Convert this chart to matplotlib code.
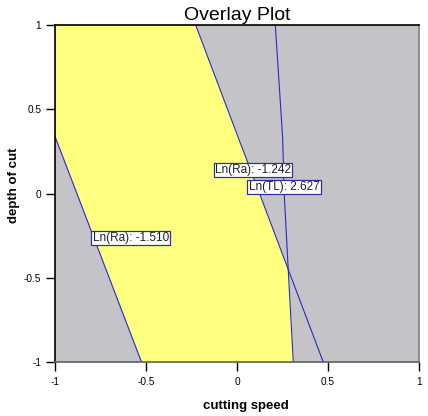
import matplotlib
matplotlib.use("Agg")
import matplotlib.pyplot as plt
import numpy as np

plt.rcParams['font.family'] = ['Liberation Sans', 'DejaVu Sans']

# contour lines (x = cutting speed, y = depth of cut)
ra_low_x = [-1.0, -0.808, -0.525]
ra_low_y = [0.336, -0.204, -1.0]
ra_high_x = [-0.228, 0.005, 0.102, 0.282, 0.474]
ra_high_y = [1.0, 0.336, 0.061, -0.452, -1.0]
tl_x = [0.210, 0.250, 0.259, 0.281, 0.309]
tl_y = [1.0, 0.336, 0.0, -0.452, -1.0]

# flag labels: text, position
labels = ["Ln(Ra): -1.510", "Ln(Ra): -1.242", "Ln(TL): 2.627"]
label_x = [-0.584, 0.087, 0.258]
label_y = [-0.263, 0.140, 0.039]

ticks = [-1, -0.5, 0, 0.5, 1]
tick_labels = ["-1", "-0.5", "0", "0.5", "1"]

yellow = "#ffff80"
gray = "#c4c3c8"
blue = "#2a2ac8"

fig = plt.figure(figsize=(4.28, 4.16), dpi=100)
ax = fig.add_axes([0.129, 0.129, 0.850, 0.811])
ax.set_facecolor(gray)


def line_x(xs, ys, yy, above=None):
    # np.interp wants increasing y
    return np.interp(yy, ys[::-1], xs[::-1], right=above)


yy = np.linspace(-1, 1, 400)
left = line_x(ra_low_x, ra_low_y, yy, above=-1.0)
right = np.minimum(line_x(ra_high_x, ra_high_y, yy), line_x(tl_x, tl_y, yy))
ax.fill_betweenx(yy, left, right, color=yellow, lw=0)

ax.plot(ra_low_x, ra_low_y, color=blue, lw=0.8)
ax.plot(ra_high_x, ra_high_y, color=blue, lw=0.8)
ax.plot(tl_x, tl_y, color=blue, lw=0.8)

for txt, lx, ly in zip(labels, label_x, label_y):
    ax.text(lx, ly, txt, fontsize=8.5, ha='center', va='center', color='#202020',
            bbox=dict(boxstyle='square,pad=0.12', fc='white', ec='#3030a0', lw=0.9))

ax.set_xlim(-1, 1)
ax.set_ylim(-1, 1)
ax.set_xticks(ticks)
ax.set_xticklabels(tick_labels)
ax.set_yticks(ticks)
ax.set_yticklabels(tick_labels)
ax.tick_params(direction='out', length=6.5, width=1, labelsize=7.3, colors='black')
ax.tick_params(axis='x', pad=4)
ax.tick_params(axis='y', pad=3.5)

ax.spines['left'].set_color('black')
ax.spines['top'].set_color('black')
ax.spines['bottom'].set_color('#606060')
ax.spines['right'].set_color('#808080')
for s in ax.spines.values():
    s.set_linewidth(1.2)

ax.set_title("Overlay Plot", fontsize=14, pad=3.6)
ax.set_xlabel("cutting speed", fontsize=9.5, fontweight='bold')
ax.set_ylabel("depth of cut", fontsize=9.5, fontweight='bold')
ax.xaxis.set_label_coords(0.524, -0.112)
ax.yaxis.set_label_coords(-0.097, 0.526)

fig.savefig("out.png", dpi=100)
